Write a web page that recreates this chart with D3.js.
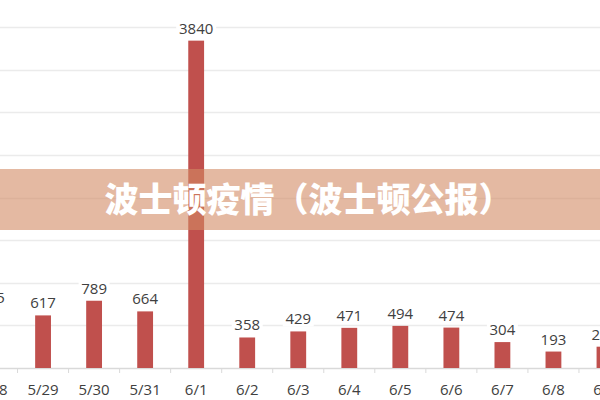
<!DOCTYPE html>
<html lang="zh">
<head>
    <meta charset="UTF-8">
    <title>波士顿疫情</title>
    <script src="https://d3js.org/d3.v7.min.js"></script>
    <style>
        body { margin: 0; overflow: hidden; background: #fff; }
        svg { display: block; }
    </style>
</head>
<body>
    <script>
        // data (first and last days are cut at the edges)
        const days = ["5/28", "5/29", "5/30", "5/31", "6/1", "6/2", "6/3", "6/4", "6/5", "6/6", "6/7", "6/8", "6/9"];
        const cases = [685, 617, 789, 664, 3840, 358, 429, 471, 494, 474, 304, 193, 250];
        const yTicks = [0, 500, 1000, 1500, 2000, 2500, 3000, 3500, 4000];
        const title = "波士顿疫情（波士顿公报）";

        const width = 600, height = 400;
        const svg = d3.select("body").append("svg")
            .attr("width", width)
            .attr("height", height);

        // the chart is a crop, so the band runs past both edges
        const x = d3.scaleBand()
            .domain(days)
            .range([-33.5, 630])
            .padding(0);
        const y = d3.scaleLinear()
            .domain([0, 4000])
            .range([368, 27]);

        const barW = x.bandwidth() * 0.31;

        // gridlines
        svg.append("g").selectAll("line")
            .data(yTicks)
            .enter().append("line")
            .attr("x1", 0).attr("x2", width)
            .attr("y1", d => Math.round(y(d)) + 0.5)
            .attr("y2", d => Math.round(y(d)) + 0.5)
            .attr("stroke", d => d === 0 ? "#d9d9d9" : "#ebebeb")
            .attr("stroke-width", 1.5);

        // small ticks between the days
        svg.append("g").selectAll("line")
            .data(days)
            .enter().append("line")
            .attr("x1", d => x(d)).attr("x2", d => x(d))
            .attr("y1", y(0)).attr("y2", y(0) + 5)
            .attr("stroke", "#d9d9d9");

        svg.append("g").selectAll("rect")
            .data(cases)
            .enter().append("rect")
            .attr("x", (d, i) => x(days[i]) + x.bandwidth() / 2 - barW / 2)
            .attr("y", d => y(d))
            .attr("width", barW)
            .attr("height", d => y(0) - y(d))
            .attr("fill", "#c0504d");

        // value labels, with a white patch so the gridline stops behind them
        const labels = svg.append("g").selectAll("g")
            .data(cases)
            .enter().append("g")
            .attr("transform", (d, i) => `translate(${x(days[i]) + x.bandwidth() / 2},${y(d) - 7})`);
        labels.append("rect")
            .attr("x", d => -String(d).length * 4.5 - 2)
            .attr("y", -13)
            .attr("width", d => String(d).length * 9 + 4)
            .attr("height", 15)
            .attr("fill", "#fff");
        labels.append("text")
            .attr("text-anchor", "middle")
            .attr("font-family", "'Open Sans', sans-serif")
            .attr("font-size", 15)
            .attr("fill", "#404040")
            .text(d => d);

        // x axis labels
        svg.append("g").selectAll("text")
            .data(days)
            .enter().append("text")
            .attr("x", d => x(d) + x.bandwidth() / 2)
            .attr("y", 395)
            .attr("text-anchor", "middle")
            .attr("font-family", "'Open Sans', sans-serif")
            .attr("font-size", 15)
            .attr("fill", "#404040")
            .text(d => d);

        // title band over the middle
        svg.append("rect")
            .attr("x", 0).attr("y", 169)
            .attr("width", width).attr("height", 61)
            .attr("fill", "rgb(210,138,100)")
            .attr("fill-opacity", 0.6);
        svg.append("text")
            .attr("x", 308.5)
            .attr("y", 212)
            .attr("text-anchor", "middle")
            .attr("font-family", "'Noto Sans CJK SC', sans-serif")
            .attr("font-weight", 900)
            .attr("font-size", 34)
            .attr("fill", "#fff")
            .text(title);
    </script>
</body>
</html>
